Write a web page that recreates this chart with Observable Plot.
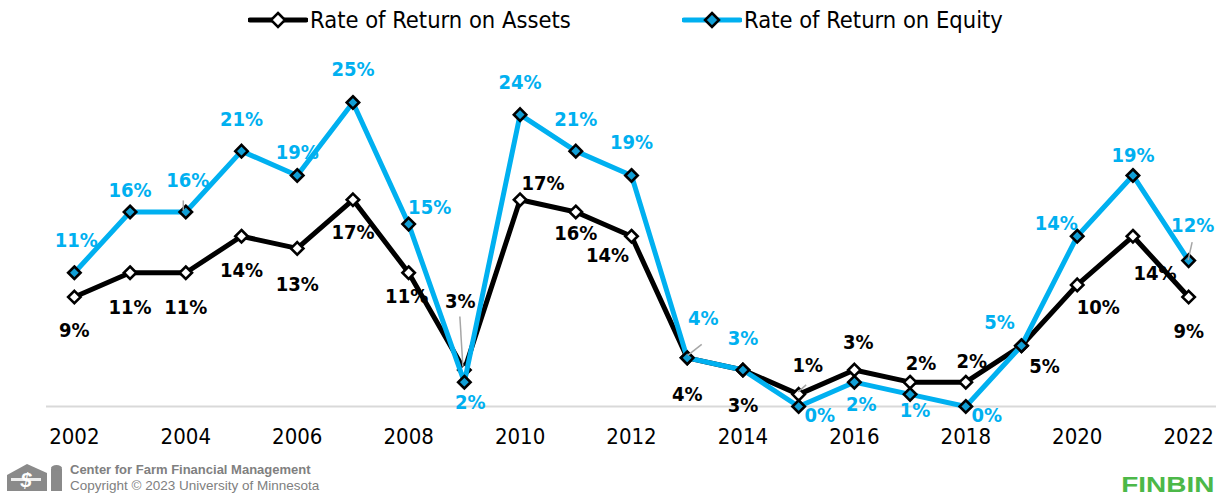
<!DOCTYPE html>
<html>
<head>
<meta charset="utf-8">
<script src="https://cdn.jsdelivr.net/npm/d3@7"></script>
<script src="https://cdn.jsdelivr.net/npm/@observablehq/plot@0.6"></script>
<style>
  html, body { margin: 0; padding: 0; background: #fff; }
  body { width: 1224px; height: 499px; overflow: hidden; font-family: "DejaVu Sans Condensed", "Liberation Sans Narrow", sans-serif; }
  #legend { position: relative; height: 40px; }
  #legend .txt { position: absolute; top: 6px; font-size: 23.5px; line-height: 28px; color: #000; white-space: nowrap; }
  #legend svg { position: absolute; top: 10px; }
  #chart svg { display: block; }
  #footer { position: relative; height: 41px; font-family: "Liberation Sans", Arial, sans-serif; }
  #footer .l1 { position: absolute; left: 70px; top: 4px; font-size: 13px; font-weight: bold; color: #808080; white-space: nowrap; }
  #footer .l2 { position: absolute; left: 70px; top: 20px; font-size: 13.5px; color: #808080; white-space: nowrap; }
  #footer .fin { position: absolute; right: 10px; top: 14px; font-size: 22px; font-weight: bold; color: #4cb848; transform: scaleX(1.27); transform-origin: right center; }
  #footer svg { position: absolute; left: 5px; top: 3px; }
</style>
</head>
<body>
<div id="legend"></div>
<div id="chart"></div>
<div id="footer">
  <svg width="60" height="32" viewBox="0 0 60 32">
    <path d="M2 14 L22 3 L42 12 L42 30 L2 30 Z" fill="#8a8a8a"/>
    <rect x="46" y="8" width="11" height="22" fill="#8a8a8a"/>
    <ellipse cx="51.5" cy="7" rx="5.5" ry="3" fill="#8a8a8a"/>
    <text x="21" y="26" font-family="Liberation Sans, Arial" font-weight="bold" font-style="italic" font-size="20" fill="#fff" text-anchor="middle">$</text>
    <rect x="6" y="17" width="30" height="3" fill="#fff" opacity="0.85"/>
  </svg>
  <div class="l1">Center for Farm Financial Management</div>
  <div class="l2">Copyright © 2023 University of Minnesota</div>
  <div class="fin">FINBIN</div>
</div>
<script>
// ---------------- data ----------------
const years = [2002, 2003, 2004, 2005, 2006, 2007, 2008, 2009, 2010, 2011, 2012,
               2013, 2014, 2015, 2016, 2017, 2018, 2019, 2020, 2021, 2022];
const roa = [9, 11, 11, 14, 13, 17, 11, 3, 17, 16, 14, 4, 3, 1, 3, 2, 2, 5, 10, 14, 9];
const roe = [11, 16, 16, 21, 19, 25, 15, 2, 24, 21, 19, 4, 3, 0, 2, 1, 0, 5, 14, 19, 12];
const tickYears = [2002, 2004, 2006, 2008, 2010, 2012, 2014, 2016, 2018, 2020, 2022];
const seriesNames = ["Rate of Return on Assets", "Rate of Return on Equity"];

// ---------------- label layout (pixel offsets from each point) ----------------
const roeLabelOffset = [[2,-32],[0,-21],[2,-31],[0,-32],[0,-23],[0,-33],[21,-17],[6,20],[0,-32],[0,-32],[0,-33],
                        [16,-39],[0,-31],[21,9],[7,22],[5,16],[21,9],[-22,-23],[-21,-13],[0,-20],[4,-35]];
const roaLabelOffset = [[0,34],[0,35],[0,35],[0,34],[0,36],[0,33],[-2,24],[-4,-68],[23,-16],[0,22],[-24,19],
                        [0,37],[0,36],[9,-29],[4,-27],[11,-19],[6,-21],[23,21],[21,23],[22,37],[0,35]];
// leader lines: [series, index, x1, y1, x2, y2] offsets in px
const leaderLines = [["roe", 2, -2, -1, -2, -11], ["roe", 11, 1, -2, 15, -13], ["roe", 20, 0, 0, 4, -18],
                     ["roa", 7, -1, -3, -4, -53], ["roa", 13, 0, -2, 8, -9]];

const BLACK = "#000000", BLUE = "#00b0f0", BLUE_FILL = "#119fd6";
const roaRows = years.map((y, i) => ({year: y, v: roa[i], i}));
const roeRows = years.map((y, i) => ({year: y, v: roe[i], i}));

// ---------------- legend ----------------
function legendSample(color, fill) {
  return `<svg width="60" height="20" viewBox="0 0 60 20">
    <line x1="2" y1="10" x2="58" y2="10" stroke="${color}" stroke-width="5" stroke-linecap="round"/>
    <path d="M30 3 L37 10 L30 17 L23 10 Z" fill="${fill}" stroke="#000" stroke-width="2.5"/></svg>`;
}
document.getElementById("legend").innerHTML =
  `<div style="position:absolute;left:248px;top:0">${legendSample(BLACK, "#fff")}</div>
   <div class="txt" style="left:310px">${seriesNames[0]}</div>
   <div style="position:absolute;left:682px;top:0">${legendSample(BLUE, BLUE_FILL)}</div>
   <div class="txt" style="left:744px">${seriesNames[1]}</div>`;

// ---------------- chart ----------------
const labelFont = "'DejaVu Sans Condensed', 'Liberation Sans Narrow', sans-serif";
const labelMarks = [];
roeRows.forEach((d, i) => labelMarks.push(Plot.text([d], {
  x: "year", y: "v", text: r => r.v + "%", dx: roeLabelOffset[i][0], dy: roeLabelOffset[i][1],
  fill: BLUE, fontSize: 20, fontWeight: "bold", fontFamily: labelFont
})));
roaRows.forEach((d, i) => labelMarks.push(Plot.text([d], {
  x: "year", y: "v", text: r => r.v + "%", dx: roaLabelOffset[i][0], dy: roaLabelOffset[i][1],
  fill: BLACK, fontSize: 20, fontWeight: "bold", fontFamily: labelFont
})));

function leaderMark(index, scales) {
  const g = d3.create("svg:g").attr("stroke", "#a6a6a6").attr("stroke-width", 1.5);
  if (!scales || !scales.x || !scales.y) return g.node();
  for (const [s, i, x1, y1, x2, y2] of leaderLines) {
    const vals = s === "roe" ? roe : roa;
    const px = scales.x(years[i]), py = scales.y(vals[i]);
    g.append("line").attr("x1", px + x1).attr("y1", py + y1).attr("x2", px + x2).attr("y2", py + y2);
  }
  return g.node();
}

const chart = Plot.plot({
  width: 1224,
  height: 418,
  marginTop: 62,
  marginBottom: 52,
  marginLeft: 46,
  marginRight: 8,
  style: {fontFamily: labelFont, background: "#fff", overflow: "visible"},
  x: {domain: [2001.5, 2022.5], ticks: tickYears, tickFormat: d => String(d), label: null},
  y: {domain: [0, 25], axis: null},
  marks: [
    Plot.ruleY([0], {stroke: "#d9d9d9", strokeWidth: 2}),
    Plot.axisX({ticks: tickYears, tickFormat: d => String(d), tickSize: 0, tickPadding: 22,
                fontSize: 22, fill: "#000", label: null}),
    Plot.line(roaRows, {x: "year", y: "v", stroke: BLACK, strokeWidth: 5, strokeLinejoin: "round"}),
    Plot.dot(roaRows, {x: "year", y: "v", symbol: "diamond2", r: 5.6, fill: "#fff", stroke: "#000", strokeWidth: 2.6}),
    Plot.line(roeRows, {x: "year", y: "v", stroke: BLUE, strokeWidth: 5, strokeLinejoin: "round"}),
    Plot.dot(roeRows, {x: "year", y: "v", symbol: "diamond2", r: 5.6, fill: BLUE_FILL, stroke: "#000", strokeWidth: 2.6}),
    leaderMark,
    ...labelMarks
  ]
});
document.getElementById("chart").appendChild(chart);
</script>
</body>
</html>
